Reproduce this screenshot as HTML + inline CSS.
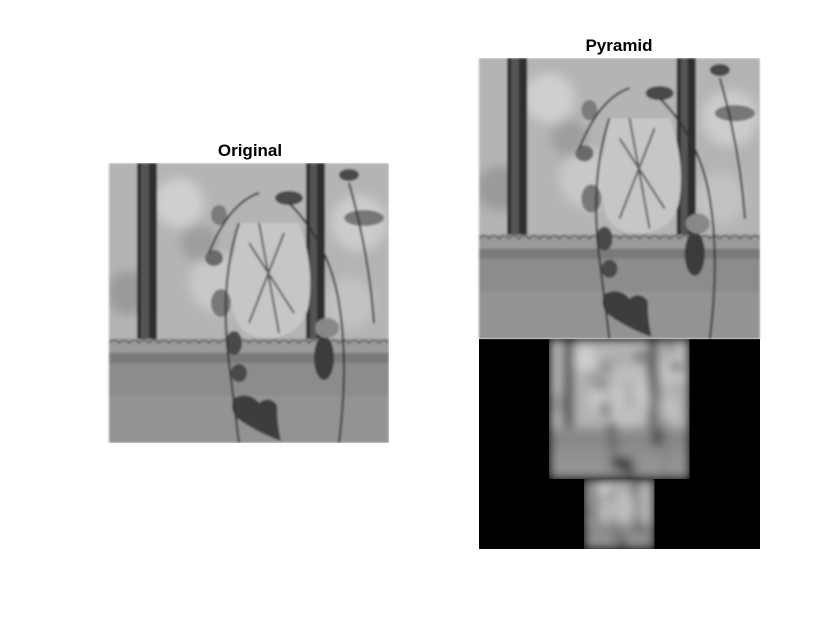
<!DOCTYPE html>
<html><head><meta charset="utf-8"><style>
html,body{margin:0;padding:0;background:#fff;width:840px;height:630px;overflow:hidden}
svg{display:block}
.t{font-family:"Liberation Sans",Arial,sans-serif;font-weight:bold;font-size:17px;fill:#000}
</style></head><body>
<svg width="840" height="630" viewBox="0 0 840 630">
<defs>
<clipPath id="cp"><rect x="0" y="0" width="280" height="280"/></clipPath>
<filter id="b1" x="0" y="0" width="1" height="1"><feGaussianBlur stdDeviation="1" edgeMode="duplicate"/></filter>
<filter id="b2" x="0" y="0" width="1" height="1"><feGaussianBlur stdDeviation="10" edgeMode="duplicate"/></filter>
<filter id="b3" x="0" y="0" width="1" height="1"><feGaussianBlur stdDeviation="20" edgeMode="duplicate"/></filter>
<filter id="bs"><feGaussianBlur stdDeviation="5"/></filter>
<g id="scene">
 <g clip-path="url(#cp)">
  <rect x="0" y="0" width="280" height="280" fill="#b4b4b4"/>
  <g filter="url(#bs)">
    <circle cx="70" cy="40" r="25" fill="#cfcfcf"/>
    <circle cx="110" cy="120" r="30" fill="#c8c8c8"/>
    <circle cx="20" cy="130" r="22" fill="#9a9a9a"/>
    <circle cx="250" cy="60" r="28" fill="#cccccc"/>
    <circle cx="240" cy="140" r="25" fill="#c2c2c2"/>
    <circle cx="90" cy="80" r="18" fill="#9e9e9e"/>
  </g>
  <rect x="28" y="0" width="20" height="180" fill="#2e2e2e"/>
  <rect x="32" y="0" width="8" height="180" fill="#555"/>
  <rect x="197" y="0" width="19" height="180" fill="#2e2e2e"/>
  <rect x="201" y="0" width="7" height="180" fill="#555"/>
  <path d="M130 60 Q120 110 125 150 Q130 175 160 175 Q195 172 200 140 Q205 100 190 60 Z" fill="#c6c6c6"/>
  <path d="M140 80 L185 150 M150 60 L170 170 M175 70 L140 160" stroke="#5a5a5a" stroke-width="2" fill="none"/>
  <rect x="0" y="176" width="280" height="14" fill="#9a9a9a"/>
  <path d="M0 180 Q5 174 10 180 Q15 174 20 180 Q25 174 30 180 Q35 174 40 180 Q45 174 50 180 Q55 174 60 180 Q65 174 70 180 Q75 174 80 180 Q85 174 90 180 Q95 174 100 180 Q105 174 110 180 Q115 174 120 180 Q125 174 130 180 Q135 174 140 180 Q145 174 150 180 Q155 174 160 180 Q165 174 170 180 Q175 174 180 180 Q185 174 190 180 Q195 174 200 180 Q205 174 210 180 Q215 174 220 180 Q225 174 230 180 Q235 174 240 180 Q245 174 250 180 Q255 174 260 180 Q265 174 270 180 Q275 174 280 180" stroke="#6a6a6a" stroke-width="2" fill="none"/>
  <rect x="0" y="190" width="280" height="90" fill="#8c8c8c"/>
  <rect x="0" y="190" width="280" height="10" fill="#7a7a7a"/>
  <rect x="0" y="232" width="280" height="48" fill="#939393"/>
  <g fill="#4a4a4a">
    <ellipse cx="180" cy="35" rx="14" ry="7"/>
    <ellipse cx="240" cy="12" rx="10" ry="6"/>
    <ellipse cx="255" cy="55" rx="20" ry="8" fill="#777"/>
    <ellipse cx="110" cy="52" rx="8" ry="10" fill="#7c7c7c"/>
    <ellipse cx="105" cy="95" rx="9" ry="8" fill="#6a6a6a"/>
    <ellipse cx="112" cy="140" rx="10" ry="14" fill="#787878"/>
    <ellipse cx="125" cy="180" rx="8" ry="12"/>
    <ellipse cx="215" cy="195" rx="10" ry="22" fill="#3a3a3a"/>
    <ellipse cx="218" cy="165" rx="12" ry="10" fill="#888"/>
    <ellipse cx="130" cy="210" rx="8" ry="9"/>
    <path d="M125 235 Q140 228 150 240 Q160 232 168 242 Q168 262 172 278 Q145 268 128 255 Q120 245 125 235Z" fill="#3e3e3e"/>
  </g>
  <path d="M130 60 Q110 120 120 200 Q125 240 130 280 M180 40 Q220 80 230 140 Q240 200 230 280 M240 20 Q260 90 265 160 M150 30 Q120 40 100 90" stroke="#333" stroke-width="2" fill="none"/>
 </g>
</g>
</defs>

<text class="t" x="250" y="156" text-anchor="middle">Original</text>
<g transform="translate(109,163)"><g filter="url(#b1)"><use href="#scene"/></g></g>

<text class="t" x="619" y="51" text-anchor="middle">Pyramid</text>
<g>
  <rect x="479" y="339" width="281" height="210" fill="#000"/>
  <g transform="translate(479,58) scale(1.0036)"><g filter="url(#b1)"><use href="#scene"/></g></g>
  <svg x="549" y="339" width="141" height="140" viewBox="0 0 280 280"><g filter="url(#b2)"><use href="#scene"/></g></svg>
  <svg x="584" y="479" width="71" height="70" viewBox="0 0 280 280"><g filter="url(#b3)"><use href="#scene"/></g></svg>
</g>
</svg>
</body></html>
